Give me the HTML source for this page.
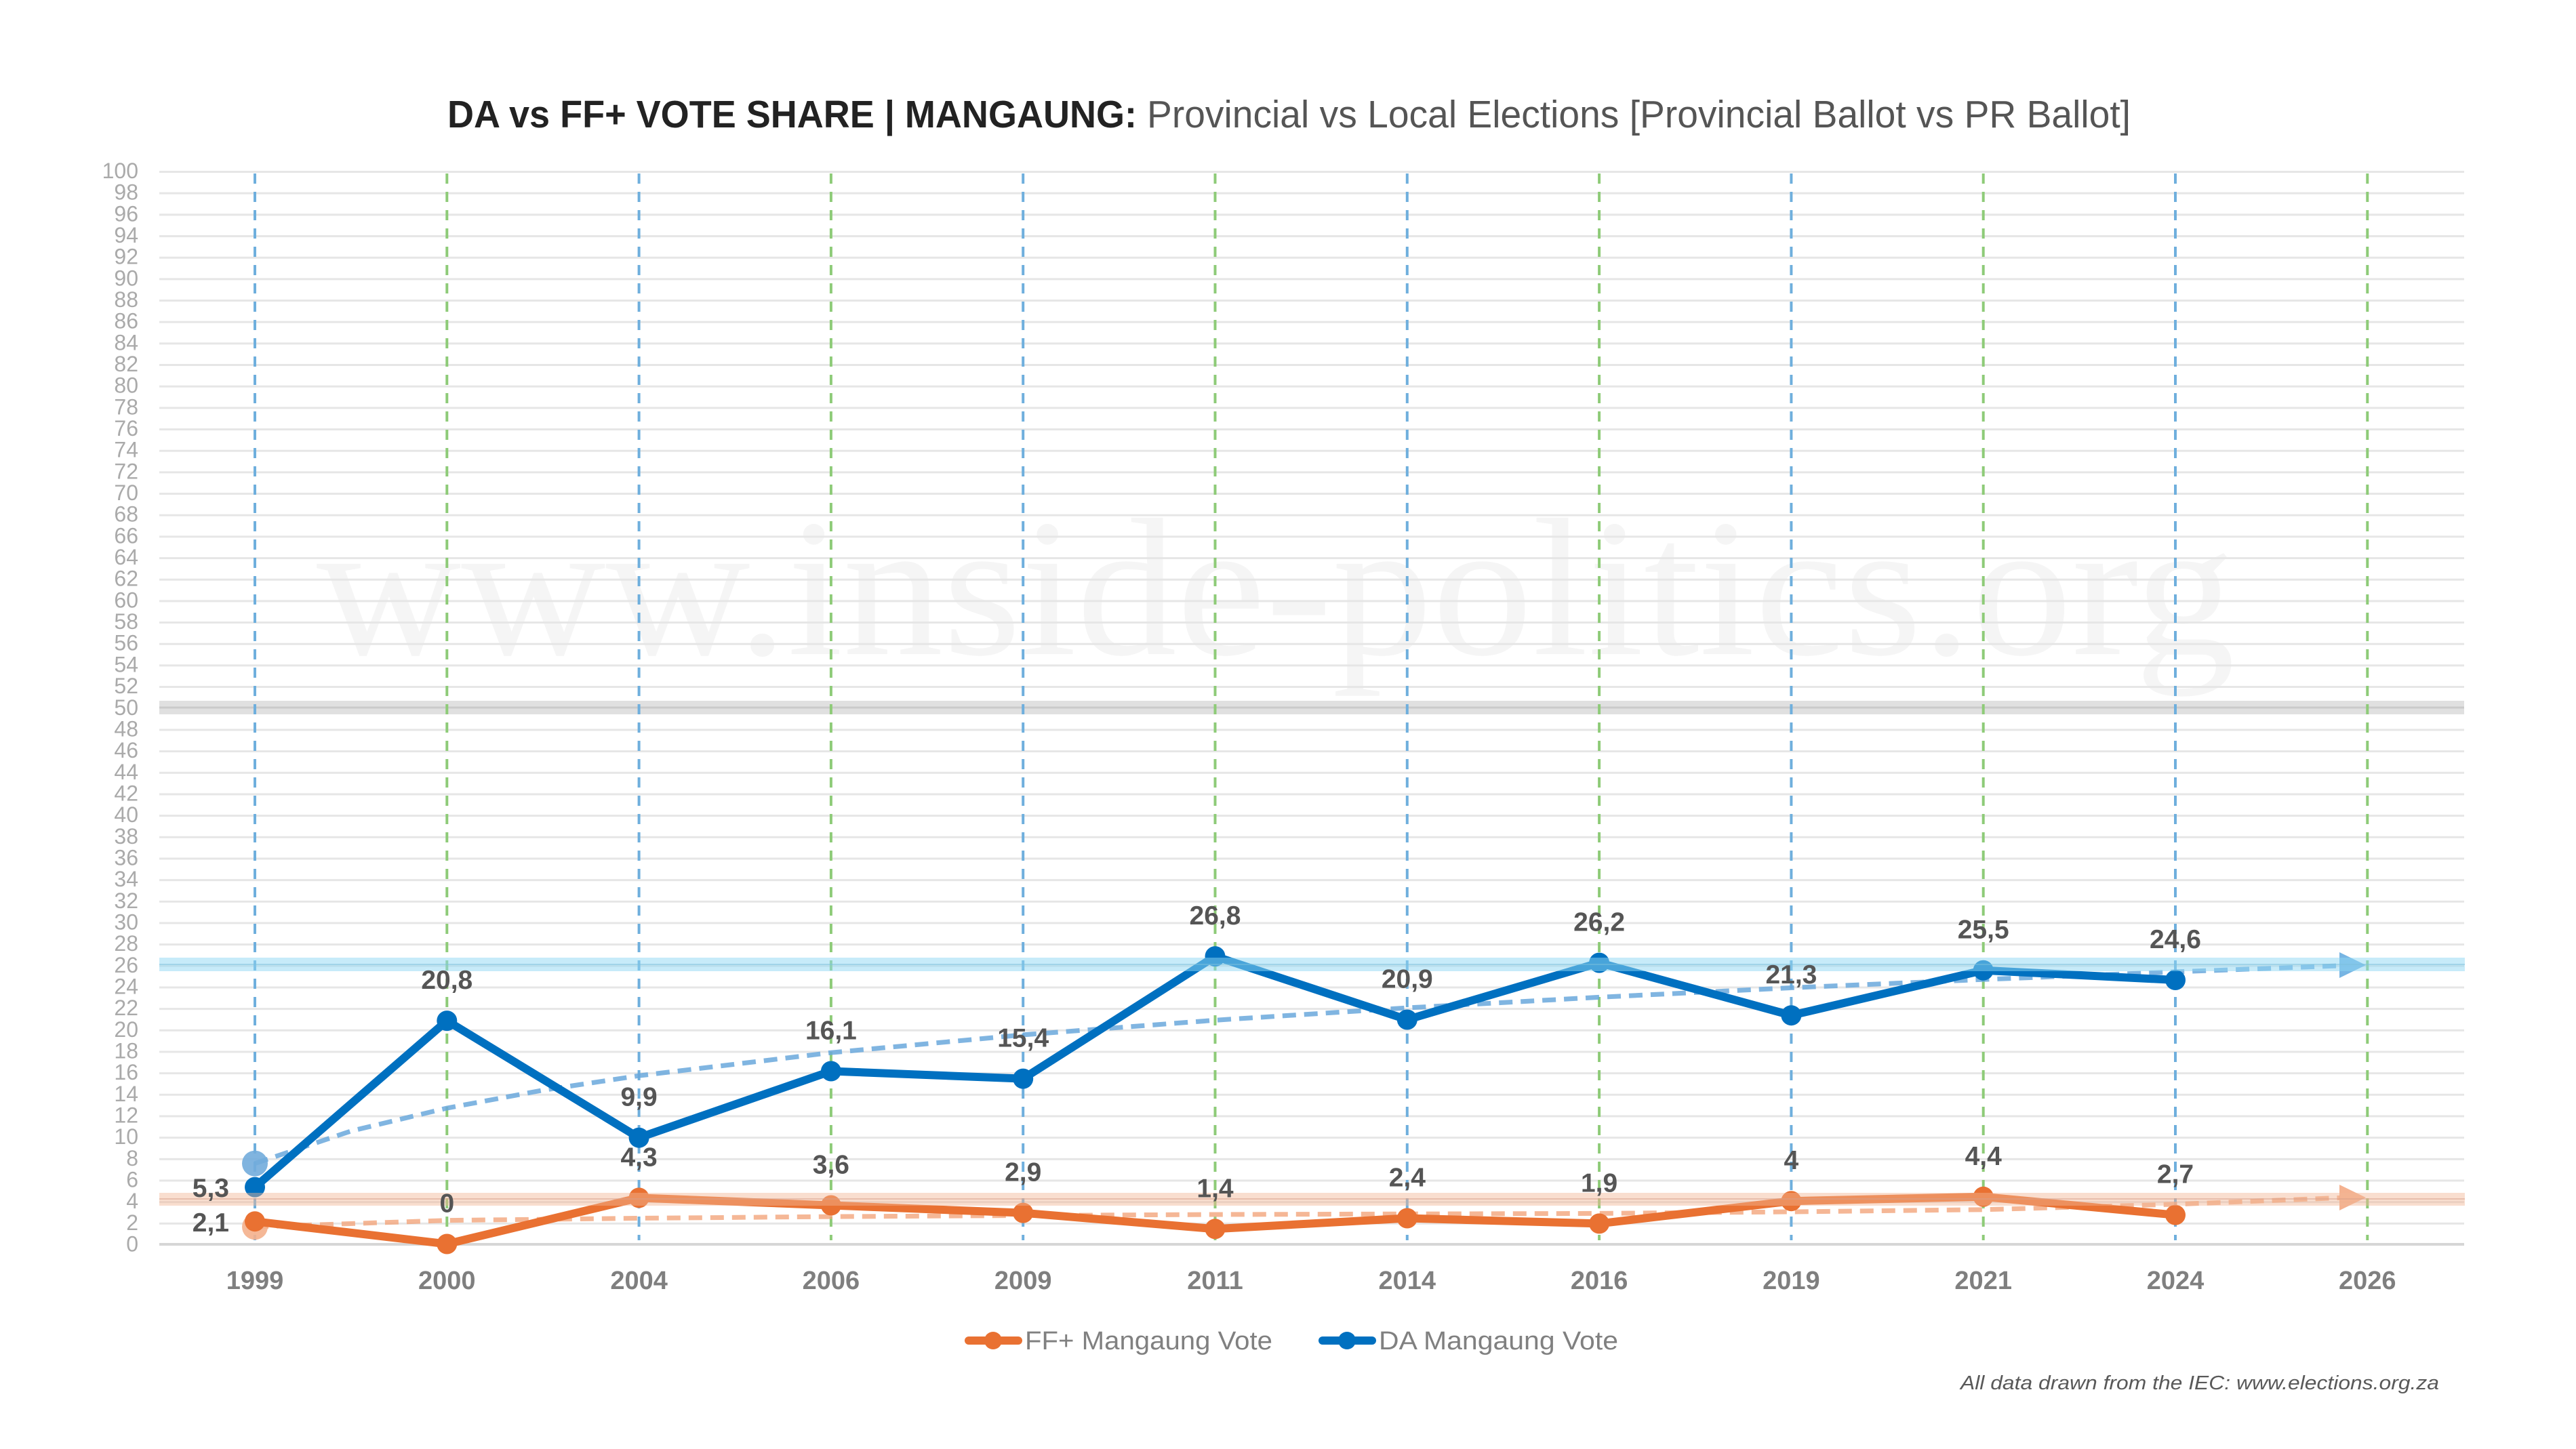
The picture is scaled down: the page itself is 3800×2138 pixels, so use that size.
<!DOCTYPE html>
<html><head><meta charset="utf-8"><style>html,body{margin:0;padding:0;background:#fff}svg{display:block}</style></head>
<body>
<svg width="3800" height="2138" viewBox="0 0 3800 2138" xmlns="http://www.w3.org/2000/svg" font-family="Liberation Sans, sans-serif">
<defs>
<pattern id="gp" x="0" y="252" width="3800" height="31.67" patternUnits="userSpaceOnUse">
<rect x="0" y="0" width="3800" height="3" fill="#e6e6e6"/>
</pattern>
</defs>
<rect width="3800" height="2138" fill="#fff"/>
<text x="467" y="965" font-family="Liberation Serif, serif" font-size="290" fill="#f5f5f5" textLength="2830" lengthAdjust="spacingAndGlyphs">www.inside-politics.org</text>
<rect x="235" y="250.5" width="3400" height="1570" fill="url(#gp)"/>
<rect x="235" y="1034" width="3400" height="20" fill="#e0e0e0"/>
<line x1="235" y1="1044" x2="3635" y2="1044" stroke="#cacaca" stroke-width="3"/>
<line x1="235" y1="1836" x2="3635" y2="1836" stroke="#d6d6d6" stroke-width="4"/>
<g font-size="32" fill="#aaaaaa" text-anchor="end">
<text x="204" y="1846.5">0</text><text x="204" y="1814.8">2</text><text x="204" y="1783.2">4</text><text x="204" y="1751.5">6</text><text x="204" y="1719.8">8</text>
<text x="204" y="1688.2">10</text><text x="204" y="1656.5">12</text><text x="204" y="1624.8">14</text><text x="204" y="1593.1">16</text><text x="204" y="1561.5">18</text>
<text x="204" y="1529.8">20</text><text x="204" y="1498.1">22</text><text x="204" y="1466.5">24</text><text x="204" y="1434.8">26</text><text x="204" y="1403.1">28</text>
<text x="204" y="1371.5">30</text><text x="204" y="1339.8">32</text><text x="204" y="1308.1">34</text><text x="204" y="1276.4">36</text><text x="204" y="1244.8">38</text>
<text x="204" y="1213.1">40</text><text x="204" y="1181.4">42</text><text x="204" y="1149.8">44</text><text x="204" y="1118.1">46</text><text x="204" y="1086.4">48</text>
<text x="204" y="1054.8">50</text><text x="204" y="1023.1">52</text><text x="204" y="991.4">54</text><text x="204" y="959.7">56</text><text x="204" y="928.1">58</text>
<text x="204" y="896.4">60</text><text x="204" y="864.7">62</text><text x="204" y="833.1">64</text><text x="204" y="801.4">66</text><text x="204" y="769.7">68</text>
<text x="204" y="738.1">70</text><text x="204" y="706.4">72</text><text x="204" y="674.7">74</text><text x="204" y="643.0">76</text><text x="204" y="611.4">78</text>
<text x="204" y="579.7">80</text><text x="204" y="548.0">82</text><text x="204" y="516.4">84</text><text x="204" y="484.7">86</text><text x="204" y="453.0">88</text>
<text x="204" y="421.4">90</text><text x="204" y="389.7">92</text><text x="204" y="358.0">94</text><text x="204" y="326.3">96</text><text x="204" y="294.7">98</text>
<text x="204" y="263">100</text>
</g>
<g stroke-width="4" stroke-dasharray="15 12">
<line x1="376" x2="376" y1="256" y2="1830" stroke="#6fafdd"/>
<line x1="659.3" x2="659.3" y1="256" y2="1830" stroke="#8ecb78"/>
<line x1="942.6" x2="942.6" y1="256" y2="1830" stroke="#6fafdd"/>
<line x1="1225.9" x2="1225.9" y1="256" y2="1830" stroke="#8ecb78"/>
<line x1="1509.2" x2="1509.2" y1="256" y2="1830" stroke="#6fafdd"/>
<line x1="1792.5" x2="1792.5" y1="256" y2="1830" stroke="#8ecb78"/>
<line x1="2075.8" x2="2075.8" y1="256" y2="1830" stroke="#6fafdd"/>
<line x1="2359.1" x2="2359.1" y1="256" y2="1830" stroke="#8ecb78"/>
<line x1="2642.4" x2="2642.4" y1="256" y2="1830" stroke="#6fafdd"/>
<line x1="2925.7" x2="2925.7" y1="256" y2="1830" stroke="#8ecb78"/>
<line x1="3209" x2="3209" y1="256" y2="1830" stroke="#6fafdd"/>
<line x1="3492.3" x2="3492.3" y1="256" y2="1830" stroke="#8ecb78"/>
</g>
<g font-size="38" font-weight="bold" fill="#7f7f7f" text-anchor="middle">
<text x="376" y="1902">1999</text><text x="659.3" y="1902">2000</text><text x="942.6" y="1902">2004</text><text x="1225.9" y="1902">2006</text>
<text x="1509.2" y="1902">2009</text><text x="1792.5" y="1902">2011</text><text x="2075.8" y="1902">2014</text><text x="2359.1" y="1902">2016</text>
<text x="2642.4" y="1902">2019</text><text x="2925.7" y="1902">2021</text><text x="3209" y="1902">2024</text><text x="3492.3" y="1902">2026</text>
</g>
<polyline fill="none" stroke="#6aa8dc" stroke-width="7" stroke-dasharray="20 12" opacity="0.85" points="376,1716.7 517.7,1668.9 659.3,1635.0 800.9,1608.6 942.6,1587.2 1225.9,1553.2 1509.2,1526.9 1792.5,1505.3 2075.8,1487.1 2359.1,1471.4 2642.4,1457.5 2925.7,1445.2 3209,1434.0 3452,1424.9"/>
<polygon points="3451,1405 3490,1424 3451,1443" fill="#5fa8de" opacity="0.85"/>
<circle cx="376" cy="1716.7" r="19" fill="#72acdc" opacity="0.9"/>
<polyline fill="none" stroke="#f2a57c" stroke-width="7" stroke-dasharray="20 12" opacity="0.8" points="376,1810.2 659.3,1800.7 942.6,1797.5 1225.9,1795.1 1509.2,1793.5 1792.5,1792.0 2075.8,1791.2 2359.1,1790.4 2642.4,1788.0 2925.7,1784.8 3209,1776.9 3452,1767.4"/>
<polygon points="3451,1748 3490,1767 3451,1786" fill="#f2a57c" opacity="0.85"/>
<circle cx="376" cy="1810.2" r="19" fill="#f4b08c" opacity="0.9"/>
<polyline fill="none" stroke="#e97132" stroke-width="12" stroke-linejoin="round" points="376,1802.2 659.3,1835.5 942.6,1767.4 1225.9,1778.5 1509.2,1789.6 1792.5,1813.3 2075.8,1797.5 2359.1,1805.4 2642.4,1772.2 2925.7,1765.8 3209,1792.7"/>
<g fill="#e97132">
<circle cx="376" cy="1802.2" r="15"/><circle cx="659.3" cy="1835.5" r="15"/><circle cx="942.6" cy="1767.4" r="15"/><circle cx="1225.9" cy="1778.5" r="15"/>
<circle cx="1509.2" cy="1789.6" r="15"/><circle cx="1792.5" cy="1813.3" r="15"/><circle cx="2075.8" cy="1797.5" r="15"/><circle cx="2359.1" cy="1805.4" r="15"/>
<circle cx="2642.4" cy="1772.2" r="15"/><circle cx="2925.7" cy="1765.8" r="15"/><circle cx="3209" cy="1792.7" r="15"/>
</g>
<polyline fill="none" stroke="#0070c0" stroke-width="12" stroke-linejoin="round" points="376,1751.6 659.3,1506.1 942.6,1678.7 1225.9,1580.5 1509.2,1591.6 1792.5,1411.1 2075.8,1504.5 2359.1,1420.6 2642.4,1498.2 2925.7,1431.7 3209,1446.0"/>
<g fill="#0070c0">
<circle cx="376" cy="1751.6" r="15"/><circle cx="659.3" cy="1506.1" r="15"/><circle cx="942.6" cy="1678.7" r="15"/><circle cx="1225.9" cy="1580.5" r="15"/>
<circle cx="1509.2" cy="1591.6" r="15"/><circle cx="1792.5" cy="1411.1" r="15"/><circle cx="2075.8" cy="1504.5" r="15"/><circle cx="2359.1" cy="1420.6" r="15"/>
<circle cx="2642.4" cy="1498.2" r="15"/><circle cx="2925.7" cy="1431.7" r="15"/><circle cx="3209" cy="1446.0" r="15"/>
</g>
<rect x="235" y="1413" width="3401" height="20" fill="#8fd8f4" opacity="0.5"/>
<line x1="235" y1="1423" x2="3636" y2="1423" stroke="#7cc0dc" stroke-width="2" opacity="0.5"/>
<rect x="235" y="1760" width="3401" height="19" fill="#f2b595" opacity="0.45"/>
<line x1="235" y1="1769" x2="3636" y2="1769" stroke="#d9a08a" stroke-width="2" opacity="0.5"/>
<g font-size="39" font-weight="bold" fill="#555" text-anchor="middle">
<text x="338" y="1766" text-anchor="end">5,3</text><text x="338" y="1817" text-anchor="end">2,1</text>
<text x="659.3" y="1459.1">20,8</text><text x="942.6" y="1631.7">9,9</text><text x="1225.9" y="1533.5">16,1</text><text x="1509.2" y="1544.6">15,4</text>
<text x="1792.5" y="1364.1">26,8</text><text x="2075.8" y="1457.5">20,9</text><text x="2359.1" y="1373.6">26,2</text><text x="2642.4" y="1451.2">21,3</text>
<text x="2925.7" y="1384.7">25,5</text><text x="3209" y="1399">24,6</text>
<text x="659.3" y="1788.5">0</text><text x="942.6" y="1720.4">4,3</text><text x="1225.9" y="1731.5">3,6</text><text x="1509.2" y="1742.6">2,9</text>
<text x="1792.5" y="1766.3">1,4</text><text x="2075.8" y="1750.5">2,4</text><text x="2359.1" y="1758.4">1,9</text><text x="2642.4" y="1725.2">4</text>
<text x="2925.7" y="1718.8">4,4</text><text x="3209" y="1745.7">2,7</text>
</g>
<text y="188" font-size="57">
<tspan x="660" font-weight="bold" fill="#222" textLength="1017" lengthAdjust="spacingAndGlyphs">DA vs FF+ VOTE SHARE | MANGAUNG:</tspan><tspan x="1692" fill="#555" textLength="1451" lengthAdjust="spacingAndGlyphs">Provincial vs Local Elections [Provincial Ballot vs PR Ballot]</tspan>
</text>
<line x1="1429" y1="1978" x2="1502" y2="1978" stroke="#e97132" stroke-width="12" stroke-linecap="round"/>
<circle cx="1465" cy="1978" r="13" fill="#e97132"/>
<text x="1512" y="1991" font-size="38" fill="#808080" textLength="365" lengthAdjust="spacingAndGlyphs">FF+ Mangaung Vote</text>
<line x1="1951" y1="1978" x2="2024" y2="1978" stroke="#0070c0" stroke-width="12" stroke-linecap="round"/>
<circle cx="1987" cy="1978" r="13" fill="#0070c0"/>
<text x="2034" y="1991" font-size="38" fill="#808080" textLength="353" lengthAdjust="spacingAndGlyphs">DA Mangaung Vote</text>
<text x="2892" y="2050" font-size="29" font-style="italic" fill="#595959" textLength="706" lengthAdjust="spacingAndGlyphs">All data drawn from the IEC: www.elections.org.za</text>
</svg>
</body></html>
